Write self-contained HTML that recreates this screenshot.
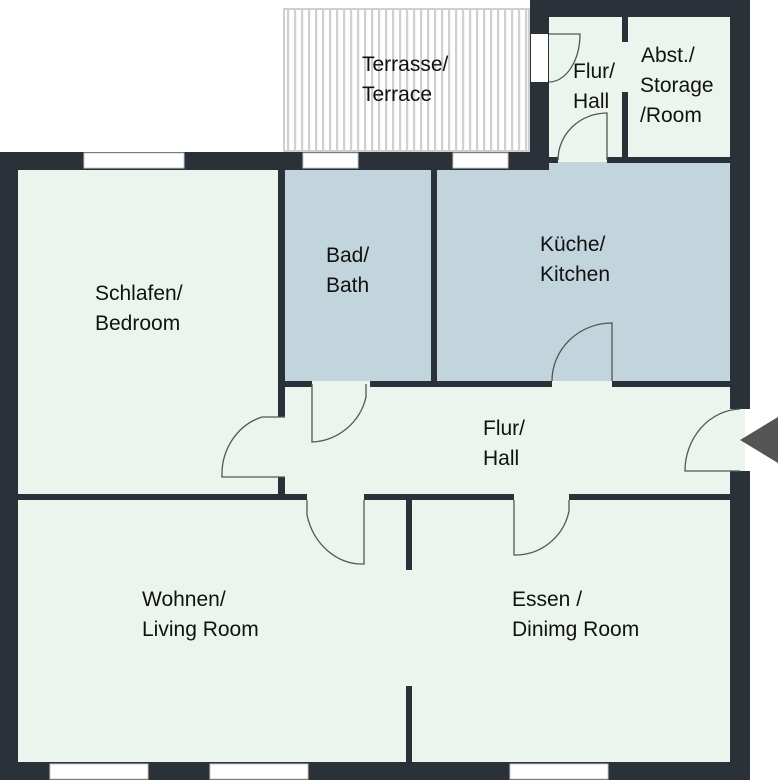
<!DOCTYPE html>
<html><head><meta charset="utf-8"><style>html,body{margin:0;padding:0;background:#fff}svg{display:block}text{font-family:"Liberation Sans",sans-serif;font-size:21px;fill:#111}</style></head><body>
<svg width="778" height="780" viewBox="0 0 778 780" xmlns="http://www.w3.org/2000/svg">
<defs><pattern id="st" width="7" height="10" patternUnits="userSpaceOnUse"><rect width="7" height="10" fill="#fff"/><rect x="0" width="2.2" height="10" fill="#cfcfcf"/></pattern></defs>
<rect x="284" y="9" width="245" height="142" fill="url(#st)" stroke="#cfcfcf" stroke-width="2"/>
<rect x="18" y="170" width="712" height="592" fill="#ebf5ee"/>
<rect x="549" y="17" width="181" height="145" fill="#ebf5ee"/>
<rect x="285" y="170" width="148" height="211" fill="#c2d4dc"/>
<rect x="437" y="162" width="293" height="219" fill="#c2d4dc"/>
<g fill="#2a3138">
<rect x="0" y="152" width="18" height="628"/>
<rect x="0" y="152" width="549" height="18"/>
<rect x="530" y="0" width="220" height="17"/>
<rect x="530" y="0" width="19" height="170"/>
<rect x="730" y="0" width="20" height="409"/>
<rect x="730" y="471" width="20" height="309"/>
<rect x="0" y="762" width="750" height="18"/>
<rect x="622" y="17" width="6" height="25"/>
<rect x="622" y="92" width="6" height="70"/>
<rect x="549" y="157" width="9" height="6"/>
<rect x="607" y="157" width="123" height="6"/>
<rect x="278" y="170" width="7" height="247"/>
<rect x="278" y="477" width="7" height="20"/>
<rect x="431" y="170" width="6" height="211"/>
<rect x="285" y="381" width="27" height="6"/>
<rect x="370" y="381" width="182" height="6"/>
<rect x="612" y="381" width="118" height="6"/>
<rect x="18" y="494" width="289" height="6"/>
<rect x="364" y="494" width="150" height="6"/>
<rect x="569" y="494" width="161" height="6"/>
<rect x="406" y="500" width="6" height="70"/>
<rect x="406" y="686" width="6" height="76"/>
</g>
<g fill="#fff" stroke="#c8c8c8" stroke-width="1">
<rect x="84" y="153" width="100" height="15"/>
<rect x="303" y="153" width="55" height="15"/>
<rect x="453" y="153" width="55" height="15"/>
<rect x="50" y="764" width="98" height="15"/>
<rect x="210" y="764" width="98" height="15"/>
<rect x="510" y="764" width="98" height="15"/>
</g>
<rect x="531" y="34" width="17" height="48" fill="#fff"/>
<rect x="730" y="409" width="15" height="62" fill="#ebf5ee"/>
<g fill="none" stroke="#555" stroke-width="1.3">
<path d="M549 34 H580 A31 48 0 0 1 549 82"/>
<path d="M607 160 V113 A49 47 0 0 0 558 160"/>
<path d="M312 384 V442 A58 58 0 0 0 366 397 V384"/>
<path d="M612 381 V323 A60 58 0 0 0 552 381"/>
<path d="M285 477 H222 A56 60 0 0 1 262 417 H285"/>
<path d="M740 471 H685 A57 62 0 0 1 740 409"/>
<path d="M307 500 V515 A57 64 0 0 0 364 564 V500"/>
<path d="M514 500 V555 A55 55 0 0 0 569 511 V500"/>
</g>
<polygon points="740,440 778,417 778,463" fill="#555"/>
<text x="362" y="71">Terrasse/</text><text x="362" y="101">Terrace</text>
<text x="573" y="78">Flur/</text><text x="573" y="108">Hall</text>
<text x="641" y="62">Abst./</text><text x="640" y="92">Storage</text><text x="640" y="122">/Room</text>
<text x="95" y="300">Schlafen/</text><text x="95" y="330">Bedroom</text>
<text x="326" y="262">Bad/</text><text x="326" y="292">Bath</text>
<text x="540" y="251">Küche/</text><text x="540" y="281">Kitchen</text>
<text x="483" y="435">Flur/</text><text x="483" y="465">Hall</text>
<text x="142" y="606">Wohnen/</text><text x="142" y="636">Living Room</text>
<text x="512" y="606">Essen /</text><text x="512" y="636">Dinimg Room</text>
</svg>
</body></html>
